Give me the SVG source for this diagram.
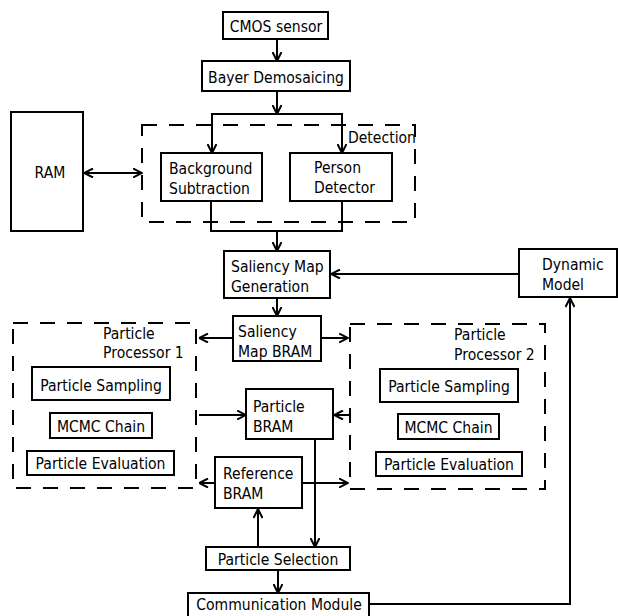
<svg xmlns="http://www.w3.org/2000/svg" width="618" height="616" viewBox="0 0 618 616">
<style>
.box{fill:#fff;stroke:#000;stroke-width:2}
.dash{fill:none;stroke:#000;stroke-width:2;stroke-dasharray:15 12}
.ln{fill:none;stroke:#000;stroke-width:2}
text{font-family:"DejaVu Sans","Liberation Sans",sans-serif;font-size:14px;fill:#000;transform-box:fill-box;transform-origin:50% 50%;transform:scaleY(1.15)}
.m{text-anchor:middle}
</style>
<defs>
<marker id="ah" viewBox="0 0 10 10" refX="9.5" refY="5" markerWidth="10" markerHeight="10" markerUnits="userSpaceOnUse" orient="auto-start-reverse">
<path d="M0.5,0.5 L9.5,5 L0.5,9.5" fill="none" stroke="#000" stroke-width="2"/>
</marker>
</defs>
<rect width="618" height="616" fill="#fff"/>
<g id="detection">
<rect class="dash" x="142" y="125" width="273" height="97"/>
<text x="348" y="142">Detection</text>
</g>
<g id="pp1">
<rect class="dash" x="13" y="323" width="183" height="165"/>
<text x="103" y="338">Particle</text>
<text x="103" y="357">Processor 1</text>
</g>
<g id="pp2">
<rect class="dash" x="350" y="324" width="195" height="165"/>
<text x="454" y="339">Particle</text>
<text x="454" y="359">Processor 2</text>
</g>
<g id="connectors">
<path class="ln" d="M277,39 V61" marker-end="url(#ah)"/>
<path class="ln" d="M277,91 V114" marker-end="url(#ah)"/>
<path class="ln" d="M212,153 V114 H342 V153"/>
<path class="ln" d="M212,120 V153" marker-end="url(#ah)"/>
<path class="ln" d="M342,120 V153" marker-end="url(#ah)"/>
<path class="ln" d="M84,173 H142" marker-start="url(#ah)" marker-end="url(#ah)"/>
<path class="ln" d="M211,201 V231 H342 V201"/>
<path class="ln" d="M277,231 V251" marker-end="url(#ah)"/>
<path class="ln" d="M519,274 H331" marker-end="url(#ah)"/>
<path class="ln" d="M277,298 V316" marker-end="url(#ah)"/>
<path class="ln" d="M233,338 H199" marker-end="url(#ah)"/>
<path class="ln" d="M321,338 H348" marker-end="url(#ah)"/>
<path class="ln" d="M199,415 H246" marker-end="url(#ah)"/>
<path class="ln" d="M350,415 H334" marker-end="url(#ah)"/>
<path class="ln" d="M315,439 V547" marker-end="url(#ah)"/>
<path class="ln" d="M215,483 H199" marker-end="url(#ah)"/>
<path class="ln" d="M302,483 H348" marker-end="url(#ah)"/>
<path class="ln" d="M258,547 V509" marker-end="url(#ah)"/>
<path class="ln" d="M278,570 V593" marker-end="url(#ah)"/>
<path class="ln" d="M369,604 H570 V298" marker-end="url(#ah)"/>
</g>
<g id="cmos">
<rect class="box" x="223" y="12" width="105" height="27"/>
<text class="m" x="276" y="31">CMOS sensor</text>
</g>
<g id="bayer">
<rect class="box" x="202" y="61" width="148" height="30"/>
<text class="m" x="276" y="82">Bayer Demosaicing</text>
</g>
<g id="ram">
<rect class="box" x="11" y="112" width="72" height="119"/>
<text class="m" x="50" y="177">RAM</text>
</g>
<g id="background">
<rect class="box" x="161" y="153" width="101" height="48"/>
<text x="169" y="173">Background</text>
<text x="169" y="193">Subtraction</text>
</g>
<g id="person">
<rect class="box" x="290" y="153" width="102" height="48"/>
<text x="314" y="172">Person</text>
<text x="314" y="192">Detector</text>
</g>
<g id="saliencygen">
<rect class="box" x="224" y="251" width="106" height="47"/>
<text x="231" y="271">Saliency Map</text>
<text x="231" y="291">Generation</text>
</g>
<g id="dynamic">
<rect class="box" x="519" y="249" width="98" height="48"/>
<text x="542" y="269">Dynamic</text>
<text x="542" y="289">Model</text>
</g>
<g id="saliencybram">
<rect class="box" x="233" y="316" width="88" height="45"/>
<text x="238" y="336">Saliency</text>
<text x="238" y="356">Map BRAM</text>
</g>
<g id="particlebram">
<rect class="box" x="246" y="389" width="87" height="50"/>
<text x="253" y="411">Particle</text>
<text x="253" y="431">BRAM</text>
</g>
<g id="referencebram">
<rect class="box" x="215" y="457" width="87" height="51"/>
<text x="223" y="478">Reference</text>
<text x="223" y="498">BRAM</text>
</g>
<g id="pp1sampling">
<rect class="box" x="32" y="367" width="138" height="33"/>
<text class="m" x="101" y="390">Particle Sampling</text>
</g>
<g id="pp1mcmc">
<rect class="box" x="50" y="413" width="102" height="25"/>
<text class="m" x="101" y="431">MCMC Chain</text>
</g>
<g id="pp1eval">
<rect class="box" x="27" y="451" width="147" height="24"/>
<text class="m" x="100.5" y="468">Particle Evaluation</text>
</g>
<g id="pp2sampling">
<rect class="box" x="380" y="369" width="138" height="33"/>
<text class="m" x="449" y="391">Particle Sampling</text>
</g>
<g id="pp2mcmc">
<rect class="box" x="398" y="414" width="101" height="25"/>
<text class="m" x="448.5" y="432">MCMC Chain</text>
</g>
<g id="pp2eval">
<rect class="box" x="376" y="452" width="146" height="24"/>
<text class="m" x="449" y="469">Particle Evaluation</text>
</g>
<g id="selection">
<rect class="box" x="206" y="547" width="144" height="23"/>
<text class="m" x="278" y="564">Particle Selection</text>
</g>
<g id="communication">
<rect class="box" x="188" y="593" width="181" height="30"/>
<text class="m" x="279" y="609">Communication Module</text>
</g>
</svg>
